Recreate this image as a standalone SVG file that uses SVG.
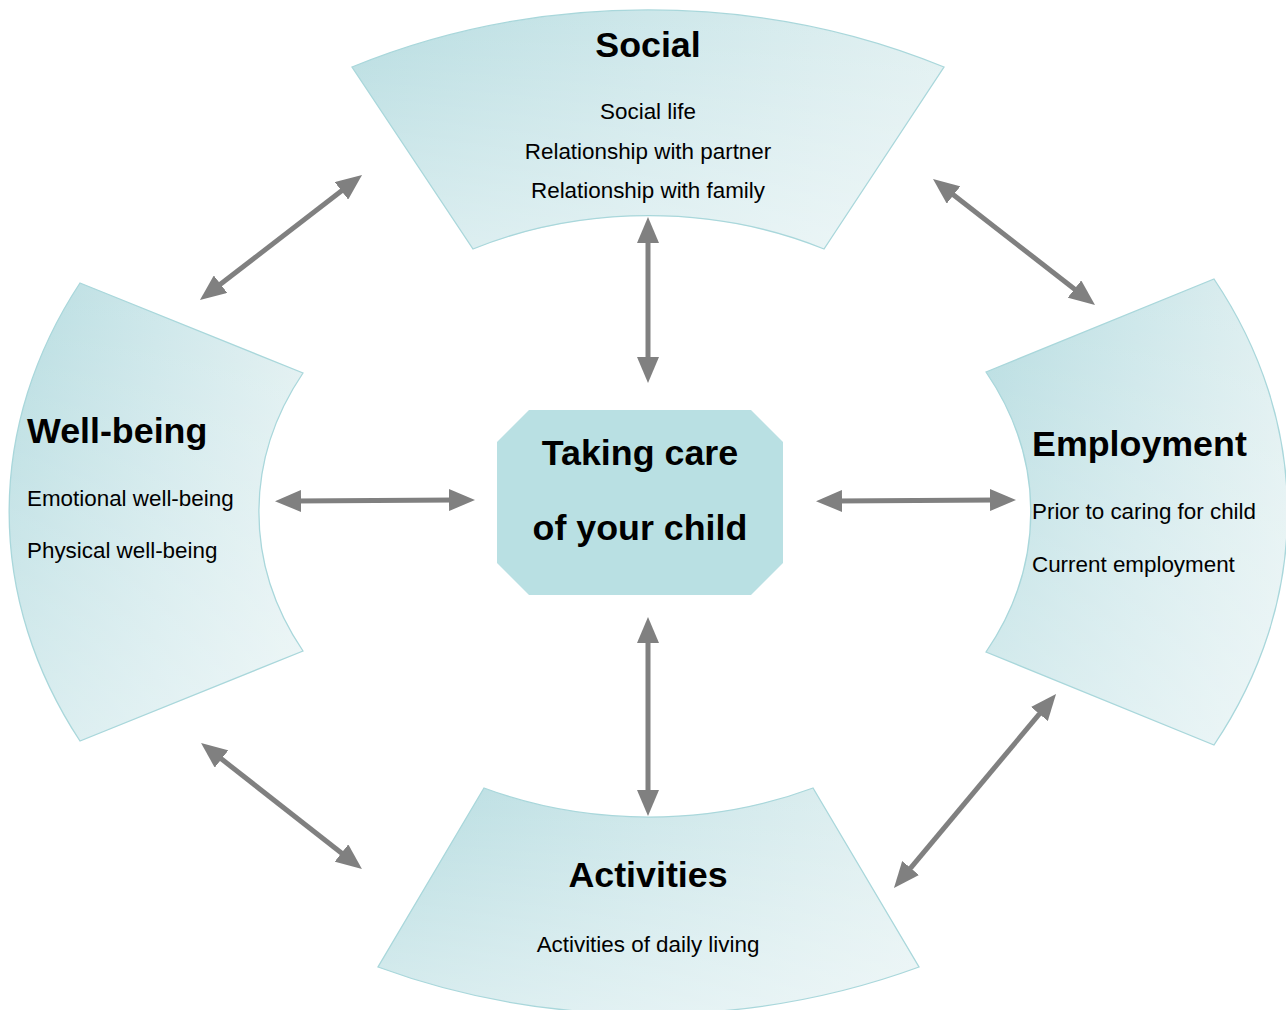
<svg xmlns="http://www.w3.org/2000/svg" width="1286" height="1010" viewBox="0 0 1286 1010">
  <style>
    .seg { fill: url(#gH); stroke: none; }
    .segv { fill: url(#gV); stroke: #a9d7db; stroke-width: 1.3; }
    .title { font-family: "Liberation Sans", Arial, sans-serif; font-weight: bold; font-size: 35.8px; fill: #000; }
    .sub { font-family: "Liberation Sans", Arial, sans-serif; font-size: 22.4px; fill: #000; }
    .mid { text-anchor: middle; }
    .conn { stroke: #808080; stroke-width: 5; fill: none; marker-start: url(#ah); marker-end: url(#ah); }
  </style>
  <defs>
    <linearGradient id="gH" x1="0" y1="0" x2="1" y2="0">
      <stop offset="0" stop-color="#b8dde1"/>
      <stop offset="0.5" stop-color="#cde7ea"/>
      <stop offset="1" stop-color="#e1f0f1"/>
    </linearGradient>
    <linearGradient id="gV" x1="0" y1="0" x2="0" y2="1">
      <stop offset="0" stop-color="#ffffff" stop-opacity="0"/>
      <stop offset="1" stop-color="#ffffff" stop-opacity="0.45"/>
    </linearGradient>
    <marker id="ah" viewBox="0 0 26 22" refX="6" refY="11" markerWidth="26" markerHeight="22" markerUnits="userSpaceOnUse" orient="auto-start-reverse">
      <path d="M0,0 L26,11 L0,22 Z" fill="#808080"/>
    </marker>
  </defs>

  <g id="social">
    <path class="seg" d="M352,67 A638,500 0 0 1 944,67 L824,249 A382,298 0 0 0 473,249 Z"/>
    <path class="segv" d="M352,67 A638,500 0 0 1 944,67 L824,249 A382,298 0 0 0 473,249 Z"/>
    <text class="title mid" x="648" y="57">Social</text>
    <text class="sub mid" x="648" y="119">Social life</text>
    <text class="sub mid" x="648" y="159">Relationship with partner</text>
    <text class="sub mid" x="648" y="198">Relationship with family</text>
  </g>

  <g id="wellbeing">
    <path class="seg" d="M80,283 L303,373 A382,298 0 0 0 303,651 L80,741 A638,500 0 0 1 80,283 Z"/>
    <path class="segv" d="M80,283 L303,373 A382,298 0 0 0 303,651 L80,741 A638,500 0 0 1 80,283 Z"/>
    <text class="title" x="27" y="443">Well-being</text>
    <text class="sub" x="27" y="506">Emotional well-being</text>
    <text class="sub" x="27" y="558">Physical well-being</text>
  </g>

  <g id="employment">
    <path class="seg" d="M986,372 L1214,279 A638,500 0 0 1 1214,745 L986,652 A382,298 0 0 0 986,372 Z"/>
    <path class="segv" d="M986,372 L1214,279 A638,500 0 0 1 1214,745 L986,652 A382,298 0 0 0 986,372 Z"/>
    <text class="title" x="1032" y="456">Employment</text>
    <text class="sub" x="1032" y="519">Prior to caring for child</text>
    <text class="sub" x="1032" y="572">Current employment</text>
  </g>

  <g id="activities">
    <path class="seg" d="M484,788 A382,298 0 0 0 813,788 L919,967 A638,500 0 0 1 378,967 Z"/>
    <path class="segv" d="M484,788 A382,298 0 0 0 813,788 L919,967 A638,500 0 0 1 378,967 Z"/>
    <text class="title mid" x="648" y="887">Activities</text>
    <text class="sub mid" x="648" y="952">Activities of daily living</text>
  </g>

  <g id="center">
    <polygon points="529,410 751,410 783,442 783,563 751,595 529,595 497,563 497,442" fill="#b9e0e3"/>
    <text class="title mid" x="640" y="465">Taking care</text>
    <text class="title mid" x="640" y="540">of your child</text>
  </g>

  <g id="connectors">
    <line class="conn" x1="215.8" y1="287.8" x2="346.2" y2="187.2"/>
    <line class="conn" x1="948.8" y1="191.3" x2="1079.2" y2="292.7"/>
    <line class="conn" x1="216.8" y1="755.3" x2="346.2" y2="856.7"/>
    <line class="conn" x1="1043.2" y1="709.4" x2="906.8" y2="872.6"/>
    <line class="conn" x1="648" y1="237" x2="648" y2="363"/>
    <line class="conn" x1="648" y1="637" x2="648" y2="796"/>
    <line class="conn" x1="295" y1="501" x2="455" y2="500"/>
    <line class="conn" x1="836" y1="501" x2="996" y2="500"/>
  </g>
</svg>
